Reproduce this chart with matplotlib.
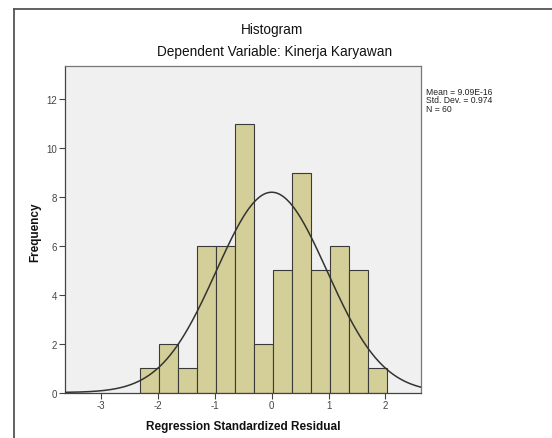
import numpy as np
import matplotlib
matplotlib.use("Agg")
import matplotlib.pyplot as plt
from matplotlib.lines import Line2D

plt.rcParams['font.family'] = ['Liberation Sans', 'DejaVu Sans']

# Data
bin_start = -2.316
bin_width = 0.3335
counts = [1, 2, 1, 6, 6, 11, 2, 5, 9, 5, 6, 5, 1]
mean = 9.09e-16
std = 0.974
n = 60
x_ticks = [-3, -2, -1, 0, 1, 2]
y_ticks = [0, 2, 4, 6, 8, 10, 12]

W, H = 552, 439
fig = plt.figure(figsize=(W / 100, H / 100), dpi=100)
fig.patch.set_facecolor('white')

# outer frame
fig.add_artist(Line2D([14 / W, 14 / W], [0, 1 - 10 / H], color='#555555', lw=1.3))
fig.add_artist(Line2D([14 / W, 1], [1 - 10 / H, 1 - 10 / H], color='#555555', lw=1.3))

left, right, top, bottom = 65, 421, 67.3, 393.5
ax = fig.add_axes([left / W, 1 - bottom / H, (right - left) / W, (bottom - top) / H])
ax.set_facecolor('#F0F0F0')

edges = bin_start + bin_width * np.arange(len(counts) + 1)
ax.bar(edges[:-1], counts, width=bin_width, align='edge', color='#D4CF98',
       edgecolor='#3a3a3a', linewidth=0.8, zorder=2)

xs = np.linspace(-3.633, 2.625, 400)
ys = n * bin_width / (std * np.sqrt(2 * np.pi)) * np.exp(-0.5 * ((xs - mean) / std) ** 2)
ax.plot(xs, ys, color='#333333', lw=1.1, zorder=3)

ax.set_xlim(-3.633, 2.625)
ax.set_ylim(0, 13.35)
ax.set_xticks(x_ticks)
ax.set_xticklabels([str(t) for t in x_ticks])
ax.set_yticks(y_ticks)
ax.set_yticklabels([str(t) for t in y_ticks])
ax.tick_params(axis='both', direction='out', length=4.5, width=0.8, colors='#444444',
               labelsize=7, labelcolor='#444444', pad=1)
for s in ax.spines.values():
    s.set_color('#777777')
    s.set_linewidth(0.9)
ax.spines['bottom'].set_color('#444444')
ax.spines['left'].set_color('#444444')

ax.set_xlabel('Regression Standardized Residual', fontsize=8.5, fontweight='bold',
              color='#111111', labelpad=7)
fig.text(35 / W, 1 - 232 / H, 'Frequency', rotation=90, ha='center', va='center',
         fontsize=8.5, fontweight='bold', color='#111111')

fig.text(272 / W, 1 - 30 / H, 'Histogram', ha='center', va='center', fontsize=9.8,
         color='#111111')
fig.text(275 / W, 1 - 52 / H, 'Dependent Variable: Kinerja Karyawan', ha='center',
         va='center', fontsize=9.8, color='#111111')

fig.text(426 / W, 1 - 88 / H, 'Mean = 9.09E-16\nStd. Dev. = 0.974\nN = 60',
         ha='left', va='top', fontsize=6.2, color='#222222', linespacing=0.9)

fig.savefig('out.png', dpi=100)
